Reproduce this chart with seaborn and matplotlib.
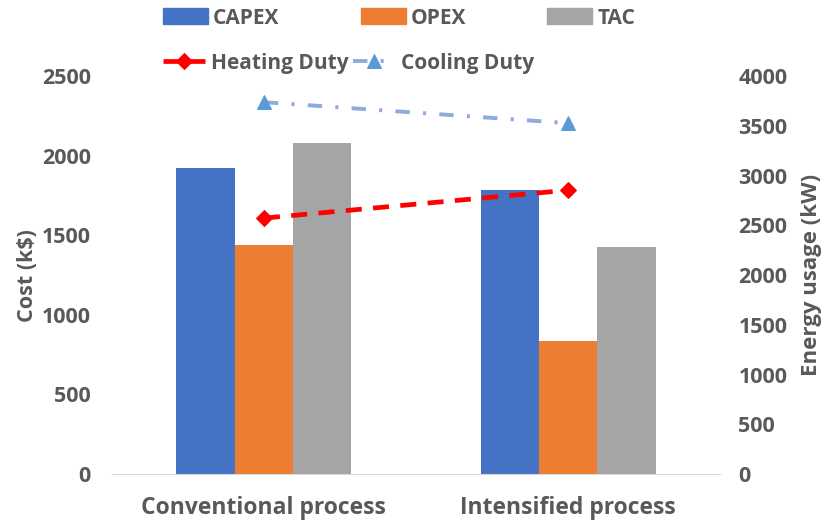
import pandas as pd
import seaborn as sns
import matplotlib.pyplot as plt
from matplotlib.patches import Patch

processes = ["Conventional process", "Intensified process"]
capex = [1922, 1784]
opex = [1438, 835]
tac = [2079, 1426]
heating_duty = [2573, 2854]
cooling_duty = [3739, 3528]

text_color = "#595959"
bar_colors = ["#4472C4", "#ED7D31", "#A5A5A5"]

sns.set_style("white")
plt.rcParams["font.family"] = ["Open Sans", "DejaVu Sans"]
plt.rcParams["font.weight"] = "bold"
plt.rcParams["text.color"] = text_color
plt.rcParams["axes.labelcolor"] = text_color
plt.rcParams["xtick.color"] = text_color
plt.rcParams["ytick.color"] = text_color

costs = pd.DataFrame({
    "process": processes * 3,
    "kind": ["CAPEX"] * 2 + ["OPEX"] * 2 + ["TAC"] * 2,
    "cost": capex + opex + tac,
})
duties = pd.DataFrame({
    "pos": list(range(len(processes))) * 2,
    "kind": ["Heating Duty"] * 2 + ["Cooling Duty"] * 2,
    "duty": heating_duty + cooling_duty,
})

fig = plt.figure(figsize=(8.28, 5.22), dpi=100)
ax = fig.add_axes([0.135, 0.092, 0.735, 0.762])

sns.barplot(
    data=costs, x="process", y="cost", hue="kind", ax=ax,
    palette=bar_colors, width=0.575, edgecolor="none", saturation=1,
    legend=False,
)
ax.set_xlim(-0.5, 1.5)
ax.set_ylim(0, 2500)
ax.set_yticks(range(0, 2501, 500))
ax.set_xlabel("")
ax.set_ylabel("Cost (k$)", fontsize=15.5, fontweight="bold", labelpad=3)
ax.tick_params(axis="x", labelsize=16.5, length=0, pad=16)
ax.tick_params(axis="y", labelsize=15.5, length=0, pad=15)
for s in ["top", "right", "left"]:
    ax.spines[s].set_visible(False)
ax.spines["bottom"].set_color("#D9D9D9")

ax2 = ax.twinx()
sns.lineplot(
    data=duties[duties.kind == "Heating Duty"], x="pos", y="duty", ax=ax2,
    color="#FF0000", linestyle=(0, (3.4, 2.4)), linewidth=3.4,
    marker="D", markersize=8, markeredgecolor="#FF0000",
    label="Heating Duty", legend=False,
)
sns.lineplot(
    data=duties[duties.kind == "Cooling Duty"], x="pos", y="duty", ax=ax2,
    color="#8FAADC", linestyle=(0, (3.7, 3.4, 0.8, 3.4)), linewidth=2.8,
    marker="^", markersize=10, markerfacecolor="#5B9BD5",
    markeredgecolor="#5B9BD5", label="Cooling Duty", legend=False,
)
ax2.set_xlim(-0.5, 1.5)
ax2.set_ylim(0, 4000)
ax2.set_yticks(range(0, 4001, 500))
ax2.set_ylabel("Energy usage (kW)", fontsize=16, fontweight="bold", labelpad=10)
ax2.tick_params(axis="y", labelsize=15.5, length=0, pad=13)
for s in ["top", "right", "left", "bottom"]:
    ax2.spines[s].set_visible(False)

# bar legend (top row) and line legend (second row)
bar_handles = [Patch(color=c) for c in bar_colors]
fig.legend(
    bar_handles, ["CAPEX", "OPEX", "TAC"], ncol=3, loc="center left",
    bbox_to_anchor=(0.197, 1 - 18 / 522), frameon=False, fontsize=15,
    handlelength=2.15, handleheight=0.8, columnspacing=3.9,
    handletextpad=0.25, borderpad=0, borderaxespad=0,
)
fig.legend(
    ax2.get_lines(), ["Heating Duty", "Cooling Duty"], ncol=2,
    loc="center left", bbox_to_anchor=(0.197, 1 - 63 / 522), frameon=False,
    fontsize=15, handlelength=2.0, columnspacing=0.2, handletextpad=0.3,
    borderpad=0, borderaxespad=0,
)

fig.savefig("out.png", dpi=100)
